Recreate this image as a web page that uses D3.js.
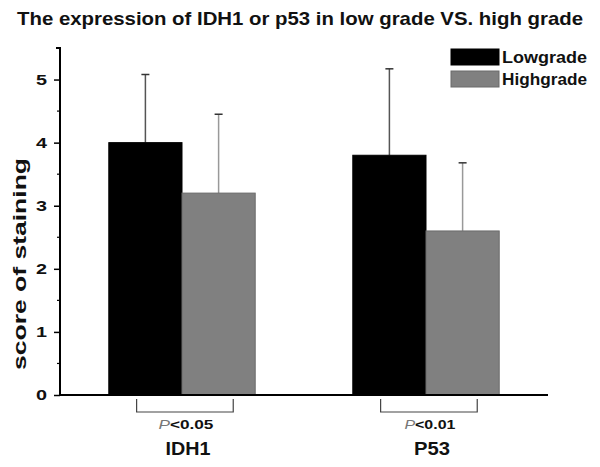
<!DOCTYPE html>
<html><head><meta charset="utf-8">
<script src="https://cdn.jsdelivr.net/npm/d3@7"></script>
<style>body{margin:0;background:#fff}svg{display:block}text{font-family:"Liberation Sans",Arial,sans-serif}</style>
</head><body>
<svg id="c" width="600" height="467"></svg>
<script>
const categories = ["IDH1", "P53"];
const seriesNames = ["Lowgrade", "Highgrade"];
const lowMeans = [4.0, 3.8];
const lowSD = [1.08, 1.37];
const highMeans = [3.2, 2.6];
const highSD = [1.25, 1.08];
const pLabels = ["<0.05", "<0.01"];
const yTicks = [0, 1, 2, 3, 4, 5];
const yMinorTicks = [0.5, 1.5, 2.5, 3.5, 4.5];
const colors = ["#000000", "#808080"];
const errColors = ["#555555", "#999999"];

const svg = d3.select("#c");
const x0 = 60, x1 = 548, yBase = 395;
const x = d3.scaleBand().domain(categories).range([x0, x1]).paddingInner(0.4).paddingOuter(0.2);
const xs = d3.scaleBand().domain(seriesNames).range([0, x.bandwidth()]);
const y = d3.scaleLinear().domain([0, 5.5]).range([yBase, 48]);

const data = [];
categories.forEach((c, i) => {
  data.push({cat: c, s: seriesNames[0], v: lowMeans[i], sd: lowSD[i], k: 0});
  data.push({cat: c, s: seriesNames[1], v: highMeans[i], sd: highSD[i], k: 1});
});

// error bars (above only)
data.forEach(d => {
  const cx = x(d.cat) + xs(d.s) + xs.bandwidth() / 2;
  svg.append("line").attr("x1", cx).attr("x2", cx).attr("y1", y(d.v)).attr("y2", y(d.v + d.sd))
    .attr("stroke", errColors[d.k]).attr("stroke-width", 1.5);
  svg.append("line").attr("x1", cx - 4).attr("x2", cx + 4).attr("y1", y(d.v + d.sd)).attr("y2", y(d.v + d.sd))
    .attr("stroke", "#333").attr("stroke-width", 1.5);
});

// bars
svg.selectAll("rect.bar").data(data).enter().append("rect").attr("class", "bar")
  .attr("x", d => x(d.cat) + xs(d.s))
  .attr("y", d => y(d.v))
  .attr("width", xs.bandwidth())
  .attr("height", d => y(0) - y(d.v))
  .attr("fill", d => colors[d.k])
  .attr("stroke", d => d.k ? "#6a6a6a" : "#000").attr("stroke-width", 1);

// y axis
const yAxis = d3.axisLeft(y).tickValues(yTicks).tickSize(6).tickPadding(7).tickFormat(d3.format("d"));
const gy = svg.append("g").attr("transform", `translate(${x0},0)`).call(yAxis);
gy.select(".domain").attr("d", `M-4,${y(5.5)}H0V${yBase}`).attr("stroke", "#000").attr("stroke-width", 2);
gy.selectAll(".tick line").attr("stroke", "#000").attr("stroke-width", 1.5);
gy.selectAll(".tick text").attr("font-size", 15).attr("font-weight", "bold").attr("fill", "#111")
  .attr("textLength", 11).attr("lengthAdjust", "spacingAndGlyphs")
  .style("font-family", '"Liberation Sans",Arial,sans-serif');
svg.append("g").attr("transform", `translate(${x0},0)`).selectAll("line").data(yMinorTicks).enter().append("line")
  .attr("x1", -3).attr("x2", 0).attr("y1", d => y(d)).attr("y2", d => y(d)).attr("stroke", "#000").attr("stroke-width", 1.2);

// x axis line
svg.append("line").attr("x1", x0 - 1).attr("x2", x1).attr("y1", yBase).attr("y2", yBase)
  .attr("stroke", "#000").attr("stroke-width", 2);

// brackets + labels
const pWidths = [55, 51];
const catWidths = [45, 36];
categories.forEach((c, i) => {
  const bx = x(c), bw = x.bandwidth();
  const l = bx + bw * 0.19, r = bx + bw * 0.85;
  svg.append("path").attr("d", `M${l},${yBase + 4}V${yBase + 17}H${r}V${yBase + 4}`)
    .attr("fill", "none").attr("stroke", "#444").attr("stroke-width", 1.2);
  const cx = (l + r) / 2 + 1;
  const t = svg.append("text").attr("x", cx).attr("y", 429).attr("text-anchor", "middle").attr("font-size", 13)
    .attr("textLength", pWidths[i]).attr("lengthAdjust", "spacingAndGlyphs");
  t.append("tspan").attr("font-style", "italic").attr("fill", "#777").text("P");
  t.append("tspan").attr("font-weight", "bold").attr("fill", "#111").text(pLabels[i]);
  svg.append("text").attr("x", cx + 2).attr("y", 455).attr("text-anchor", "middle")
    .attr("font-size", 18).attr("font-weight", "bold").attr("fill", "#111")
    .attr("textLength", catWidths[i]).attr("lengthAdjust", "spacingAndGlyphs").text(c);
});

// y label
svg.append("text").attr("transform", `translate(26,264) rotate(-90)`)
  .attr("text-anchor", "middle").attr("font-size", 18).attr("font-weight", "bold").attr("fill", "#111")
  .attr("textLength", 212).attr("lengthAdjust", "spacingAndGlyphs")
  .text("score of staining");

// title
svg.append("text").attr("x", 300).attr("y", 25).attr("text-anchor", "middle")
  .attr("font-size", 19).attr("font-weight", "bold").attr("fill", "#111")
  .attr("textLength", 566).attr("lengthAdjust", "spacingAndGlyphs")
  .text("The expression of IDH1 or p53 in low grade VS. high grade");

// legend
seriesNames.forEach((s, i) => {
  svg.append("rect").attr("x", 451).attr("y", 49 + i * 22).attr("width", 48).attr("height", 16)
    .attr("fill", colors[i]).attr("stroke", i ? "#6a6a6a" : "#000");
  svg.append("text").attr("x", 502).attr("y", 63 + i * 22).attr("font-size", 17).attr("font-weight", "bold")
    .attr("fill", "#111").attr("textLength", 85).attr("lengthAdjust", "spacingAndGlyphs").text(s);
});
</script>
</body></html>
